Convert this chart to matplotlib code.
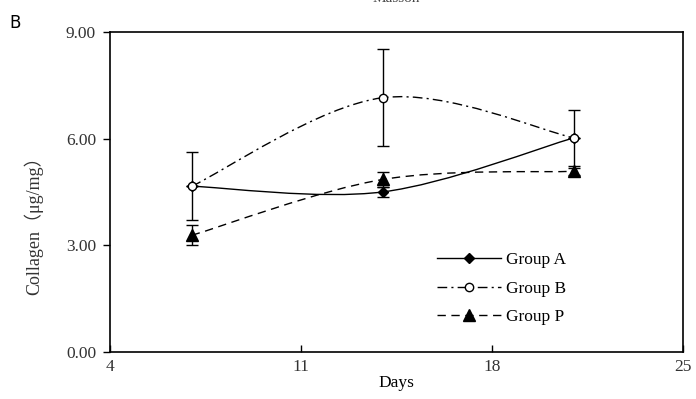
import numpy as np
import matplotlib
matplotlib.use("Agg")
import matplotlib.pyplot as plt
from matplotlib.path import Path
from matplotlib.patches import PathPatch
from matplotlib.lines import Line2D

days = [7, 14, 21]
group_a = [4.66, 4.50, 6.02]
group_a_err = [0.0, 0.14, 0.0]
group_b = [4.66, 7.15, 6.02]
group_b_err = [0.95, 1.37, 0.78]
group_p = [3.28, 4.85, 5.08]
group_p_err = [0.28, 0.20, 0.10]

x_ticks = [4, 11, 18, 25]
y_ticks = [0.0, 3.0, 6.0, 9.0]

plt.rcParams['font.family'] = ['Liberation Serif', 'Noto Sans CJK SC', 'DejaVu Sans']


def smooth_path(xs, ys):
    """Excel-style smoothed line: Bezier segments through the points"""
    pts = np.column_stack([xs, ys]).astype(float)
    n = len(pts)
    verts = [pts[0]]
    codes = [Path.MOVETO]
    for i in range(n - 1):
        p0 = pts[max(i - 1, 0)]
        p1 = pts[i]
        p2 = pts[i + 1]
        p3 = pts[min(i + 2, n - 1)]
        c1 = p1 + (p2 - p0) / 6.0
        c2 = p2 - (p3 - p1) / 6.0
        verts += [c1, c2, p2]
        codes += [Path.CURVE4] * 3
    return Path(verts, codes)


fig = plt.figure(figsize=(6.96, 3.99), dpi=100)
ax = fig.add_axes([0.158, 0.118, 0.823, 0.802])

series = [
    ("Group A", group_a, group_a_err, '-', 'D', 'black', 5),
    ("Group B", group_b, group_b_err, (0, (7, 3, 1.5, 3)), 'o', 'white', 6),
    ("Group P", group_p, group_p_err, (0, (6, 4)), '^', 'black', 8),
]

handles = []
for label, vals, errs, ls, mk, mfc, ms in series:
    patch = PathPatch(smooth_path(days, vals), facecolor='none', edgecolor='black',
                      lw=1.0, linestyle=ls, zorder=2)
    ax.add_patch(patch)
    ax.errorbar(days, vals, yerr=errs, fmt='none', ecolor='black', elinewidth=1.0,
                capsize=4, capthick=1.0, zorder=3)
    ax.plot(days, vals, linestyle='none', marker=mk, markersize=ms,
            markerfacecolor=mfc, markeredgecolor='black', markeredgewidth=1.0, zorder=4)
    handles.append(Line2D([], [], color='black', lw=1.0, linestyle=ls, marker=mk,
                          markersize=ms, markerfacecolor=mfc, markeredgecolor='black'))

ax.set_xlim(4, 25)
ax.set_ylim(0, 9)
ax.set_xticks(x_ticks)
ax.set_xticklabels([str(t) for t in x_ticks])
ax.set_yticks(y_ticks)
ax.set_yticklabels([f"{t:.2f}" for t in y_ticks])
ax.tick_params(axis='x', direction='in', length=5, width=1, labelsize=12.5,
               labelcolor='#333333', pad=5)
ax.tick_params(axis='y', direction='out', length=5, width=1, labelsize=12.5,
               labelcolor='#333333', pad=5)
for sp in ax.spines.values():
    sp.set_linewidth(1.2)

ax.set_xlabel("Days", fontsize=12.5, labelpad=0)
ax.set_ylabel("Collagen（μg/mg）", fontsize=13, color='#333333')
ax.yaxis.set_label_coords(-0.117, 0.41)

leg = ax.legend(handles, ["Group A", "Group B", "Group P"], loc='upper left',
                bbox_to_anchor=(0.556, 0.34), frameon=False, fontsize=12.5,
                borderpad=0, handlelength=3.7, handletextpad=0.25, labelspacing=0.72)

fig.text(0.013, 0.965, "B", fontsize=12, family='DejaVu Sans', va='top')
fig.text(0.57, 1.005, "Masson", fontsize=11, ha='center', va='center', color='#444444')

fig.savefig("out.png", dpi=100)
